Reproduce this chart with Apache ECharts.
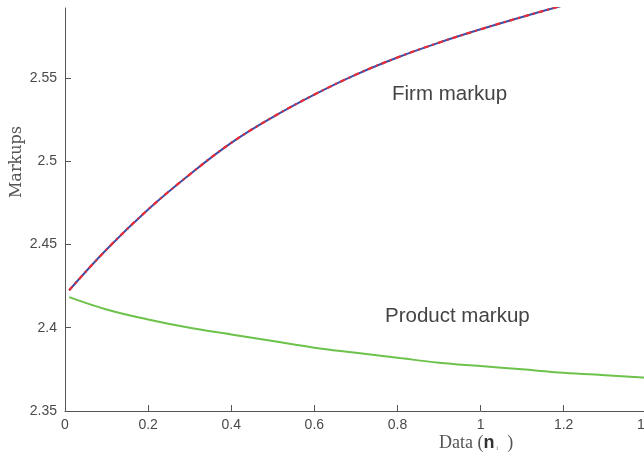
<!DOCTYPE html>
<html><head><meta charset="utf-8">
<script src="https://cdn.jsdelivr.net/npm/echarts@6/dist/echarts.min.js"></script>
<style>html,body{margin:0;padding:0;background:#fff;overflow:hidden;width:644px;height:456px}#c{width:903px;height:456px}</style>
</head><body><div id="c"></div>
<script>
const xFirm = [0.01,0.1,0.2,0.3,0.4,0.5,0.6,0.7,0.8,0.9,1.0,1.1,1.2,1.3];
const firmMarkup = [2.4225,2.447,2.471,2.492,2.511,2.5265,2.540,2.552,2.5623,2.5712,2.5792,2.5866,2.5936,2.6002];
const xProd = [0.01,0.1,0.2,0.3,0.4,0.5,0.6,0.7,0.8,0.9,1.0,1.1,1.2,1.3,1.4,1.5,1.6];
const productMarkup = [2.4184,2.411,2.405,2.400,2.396,2.392,2.388,2.385,2.382,2.379,2.377,2.375,2.373,2.3715,2.370,2.3688,2.3677];
const xTicks = [0,0.2,0.4,0.6,0.8,1,1.2,1.4,1.6,1.8,2];
const yTicks = [2.35,2.4,2.45,2.5,2.55];

const chart = echarts.init(document.getElementById('c'));
const pairs = (xs, ys) => xs.map((x,i)=>[x, ys[i]]);
chart.setOption({
  animation:false,
  grid:{left:65, top:8, right:0, bottom:45},
  xAxis:{type:'value', min:0, max:2,
    axisLine:{lineStyle:{color:'#555', width:1}},
    axisTick:{inside:true, length:6, customValues:xTicks, lineStyle:{color:'#555'}},
    axisLabel:{customValues:xTicks, color:'#4a4a4a', fontFamily:'Liberation Sans, Arial', fontSize:14, margin:7,
      formatter:v=>String(v)},
    splitLine:{show:false}},
  yAxis:{type:'value', min:2.35, max:2.592,
    axisLine:{show:true, lineStyle:{color:'#555', width:1}},
    axisTick:{show:true, inside:true, length:6, customValues:yTicks, lineStyle:{color:'#555'}},
    axisLabel:{customValues:yTicks, color:'#4a4a4a', fontFamily:'Liberation Sans, Arial', fontSize:14, margin:8,
      formatter:v=>String(Math.round(v*100)/100)},
    splitLine:{show:false}},
  series:[
    {type:'line', data:pairs(xFirm, firmMarkup), smooth:0.4, showSymbol:false, clip:true,
      lineStyle:{color:'#3a4ea8', width:2}},
    {type:'line', data:pairs(xFirm, firmMarkup), smooth:0.4, showSymbol:false, clip:true,
      lineStyle:{color:'#ee2b33', width:2.2, type:[5,4,2,4]}},
    {type:'line', data:pairs(xProd, productMarkup), smooth:0.4, showSymbol:false, clip:true,
      lineStyle:{color:'#6cc24a', width:2}}
  ],
  graphic:[
    {type:'text', x:392, y:94, style:{text:'Firm markup', font:'20.5px "Liberation Sans", Arial', fill:'#444', verticalAlign:'middle'}},
    {type:'text', x:385, y:316, style:{text:'Product markup', font:'20.5px "Liberation Sans", Arial', fill:'#444', verticalAlign:'middle'}},
    {type:'text', x:17, y:162, rotation:Math.PI/2,
      style:{text:'Markups', font:'16px "DejaVu Serif", "Liberation Serif", serif', fill:'#555', align:'center', verticalAlign:'middle'}},
    {type:'text', x:439, y:443,
      style:{text:'{s|Data (}{n|n}{sub| i}{s|  )}', align:'left', verticalAlign:'middle',
        rich:{s:{font:'18px "Liberation Serif", serif', fill:'#555'},
              n:{font:'bold 18px "Liberation Sans", Arial', fill:'#333'},
              sub:{font:'7px "Liberation Serif", serif', fill:'#888', verticalAlign:'bottom'}}}}
  ]
});
</script></body></html>
